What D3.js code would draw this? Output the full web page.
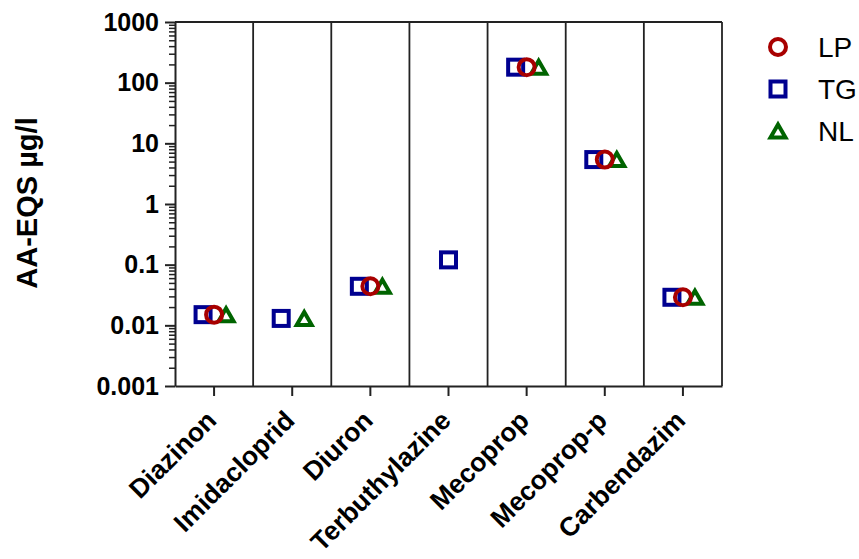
<!DOCTYPE html>
<html>
<head>
<meta charset="utf-8">
<script src="https://cdn.jsdelivr.net/npm/d3@7"></script>
<style>
  html, body { margin: 0; padding: 0; background: #fff; }
  svg { display: block; font-family: "Liberation Sans", Arial, sans-serif; }
</style>
</head>
<body>
<svg id="chart" width="859" height="559"></svg>
<script>
// ---- data ----
const categories = ["Diazinon", "Imidacloprid", "Diuron", "Terbuthylazine", "Mecoprop", "Mecoprop-p", "Carbendazim"];
const seriesNames = ["LP", "TG", "NL"];
const valuesLP = [0.015, null, 0.044, null, 180, 5.4, 0.029];
const valuesTG = [0.015, 0.013, 0.044, 0.12, 180, 5.4, 0.029];
const valuesNL = [0.015, 0.013, 0.044, null, 180, 5.4, 0.029];
const yTickValues = [0.001, 0.01, 0.1, 1, 10, 100, 1000];
const yTickLabels = ["0.001", "0.01", "0.1", "1", "10", "100", "1000"];
const yTitle = "AA-EQS µg/l";

(function () {
// ---- layout / style ----
const colors = { LP: "#a80000", TG: "#000090", NL: "#006400" };
const offsets = { LP: 0, TG: -11, NL: 12 };
const pLeft = 175, pRight = 722, pTop = 22, pBottom = 386;

const svg = d3.select("#chart");
const x = d3.scaleBand().domain(categories).range([pLeft, pRight]).paddingInner(0).paddingOuter(0);
const y = d3.scaleLog().domain([0.001, 1000]).range([pBottom, pTop]);

// frame: top and right
svg.append("line").attr("x1", pLeft).attr("x2", pRight).attr("y1", pTop).attr("y2", pTop)
  .attr("stroke", "#222").attr("stroke-width", 1.8);
svg.append("line").attr("x1", pRight).attr("x2", pRight).attr("y1", pTop).attr("y2", pBottom)
  .attr("stroke", "#222").attr("stroke-width", 1.8);
// separators
svg.append("g").selectAll("line").data(categories.slice(1)).join("line")
  .attr("x1", d => x(d)).attr("x2", d => x(d)).attr("y1", pTop).attr("y2", pBottom)
  .attr("stroke", "#222").attr("stroke-width", 1.8);

// y axis minor ticks
const minorVals = [];
for (let e = -3; e < 3; e++) for (let m = 2; m <= 9; m++) minorVals.push(m * Math.pow(10, e));
const yMinor = svg.append("g").attr("transform", `translate(${pLeft},0)`)
  .call(d3.axisLeft(y).tickValues(minorVals).tickSize(6).tickFormat(""));
yMinor.select(".domain").remove();
yMinor.selectAll(".tick line").attr("stroke", "#222").attr("stroke-width", 1.5);

// y axis major
const yAxis = svg.append("g").attr("transform", `translate(${pLeft},0)`)
  .call(d3.axisLeft(y).tickValues(yTickValues).tickSize(10).tickSizeOuter(0)
    .tickFormat((d, i) => yTickLabels[i]).tickPadding(6));
yAxis.select(".domain").attr("stroke", "#222").attr("stroke-width", 2);
yAxis.selectAll(".tick line").attr("stroke", "#222").attr("stroke-width", 2);
yAxis.selectAll(".tick text").attr("font-size", 25).attr("font-weight", "bold").attr("fill", "#000")
  .attr("font-family", "'Liberation Sans', Arial, sans-serif");

// x axis
const xAxis = svg.append("g").attr("transform", `translate(0,${pBottom})`)
  .call(d3.axisBottom(x).tickSize(10).tickSizeOuter(0));
xAxis.select(".domain").attr("stroke", "#222").attr("stroke-width", 2);
xAxis.selectAll(".tick line").attr("stroke", "#222").attr("stroke-width", 2);
xAxis.selectAll(".tick text")
  .attr("font-size", 26.5).attr("font-weight", "bold").attr("fill", "#000")
  .attr("font-family", "'Liberation Sans', Arial, sans-serif")
  .attr("text-anchor", "end").attr("dy", null)
  .attr("transform", "translate(4,36) rotate(-45)")
  .attr("y", 0).attr("x", 0);

// y title
svg.append("text").attr("transform", `translate(37,203) rotate(-90)`)
  .attr("text-anchor", "middle").attr("font-size", 29).attr("font-weight", "bold")
  .text(yTitle);

// markers
const trianglePath = "M0,-7.5 L7.5,5.5 L-7.5,5.5 Z";
function drawMarker(g, name, cx, cy) {
  const c = colors[name];
  if (name === "LP") {
    g.append("circle").attr("cx", cx).attr("cy", cy).attr("r", 8)
      .attr("fill", "none").attr("stroke", c).attr("stroke-width", 4);
  } else if (name === "TG") {
    g.append("rect").attr("x", cx - 7.5).attr("y", cy - 7.5).attr("width", 15).attr("height", 15)
      .attr("fill", "none").attr("stroke", c).attr("stroke-width", 4);
  } else {
    g.append("path").attr("d", trianglePath).attr("transform", `translate(${cx},${cy + 1})`)
      .attr("fill", "none").attr("stroke", c).attr("stroke-width", 4).attr("stroke-linejoin", "miter");
  }
}
const seriesValues = { LP: valuesLP, TG: valuesTG, NL: valuesNL };
const drawOrder = ["TG", "NL", "LP"];
const pts = svg.append("g");
categories.forEach((cat, i) => {
  const present = seriesNames.filter(s => seriesValues[s][i] != null);
  drawOrder.forEach(s => {
    const v = seriesValues[s][i];
    if (v == null) return;
    const off = present.length > 1 ? offsets[s] : 0;
    drawMarker(pts, s, x(cat) + x.bandwidth() / 2 + off, y(v));
  });
});

// legend
const legendY = [47, 89, 131];
const leg = svg.append("g");
seriesNames.forEach((s, i) => {
  drawMarker(leg, s, 778, legendY[i]);
  leg.append("text").attr("x", 818).attr("y", legendY[i] + 10)
    .attr("font-size", 28).attr("fill", "#000").text(s);
});
})();
</script>
</body>
</html>
